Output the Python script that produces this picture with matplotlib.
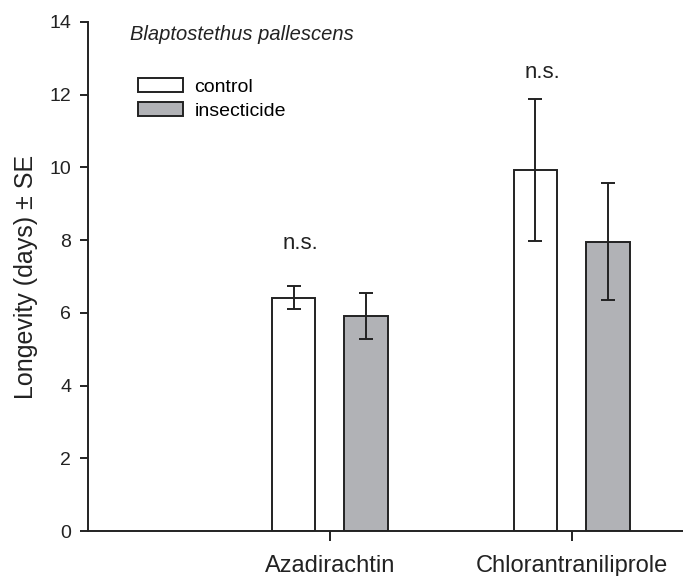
import matplotlib
matplotlib.use("Agg")
import matplotlib.pyplot as plt
import numpy as np

plt.rcParams['font.family'] = ['Liberation Sans', 'DejaVu Sans']

categories = ["Azadirachtin", "Chlorantraniliprole"]
control_mean = [6.42, 9.93]
control_se = [0.32, 1.95]
insect_mean = [5.91, 7.96]
insect_se = [0.64, 1.61]
sig_labels = ["n.s.", "n.s."]
sig_y = [7.9, 12.6]
title_text = "Blaptostethus pallescens"

fig = plt.figure(figsize=(6.83, 5.76), dpi=100)
ax = fig.add_axes([88/683, 1-531/576, 1-88/683, (531-22)/576])

x = np.array([1, 2])
w = 0.18
off = 0.15
edge = '#222222'
lw = 1.4
ax.bar(x - off, control_mean, w, color='white', edgecolor=edge, linewidth=lw, label='control', zorder=2)
ax.bar(x + off, insect_mean, w, color='#b1b2b6', edgecolor=edge, linewidth=lw, label='insecticide', zorder=2)
ax.errorbar(x - off, control_mean, yerr=control_se, fmt='none', ecolor=edge, elinewidth=lw, capsize=5, capthick=lw, zorder=3)
ax.errorbar(x + off, insect_mean, yerr=insect_se, fmt='none', ecolor=edge, elinewidth=lw, capsize=5, capthick=lw, zorder=3)

for xi, s, yv in zip(x, sig_labels, sig_y):
    ax.text(xi - 0.12, yv, s, ha='center', va='center', fontsize=16, color='#222222')

ax.set_xlim(0, 2.46)
ax.set_ylim(0, 14)
ax.set_xticks(x)
ax.set_xticklabels(categories, fontsize=17)
ax.set_yticks(np.arange(0, 15, 2))
ax.tick_params(axis='y', labelsize=14, length=6, width=lw, direction='out', colors='#222222', pad=6)
ax.tick_params(axis='x', length=7, width=lw, direction='out', pad=10, colors='#222222')
for sp in ['top', 'right']:
    ax.spines[sp].set_visible(False)
for sp in ['left', 'bottom']:
    ax.spines[sp].set_linewidth(lw)
    ax.spines[sp].set_color('#222222')
ax.set_ylabel("Longevity (days) \u00b1 SE", fontsize=18, color='#222222', labelpad=8)

ax.text(0.07, 0.975, title_text, transform=ax.transAxes, fontsize=14.5, style='italic',
        ha='left', va='center', color='#222222')
leg = ax.legend(loc='upper left', bbox_to_anchor=(0.071, 0.905), frameon=False, fontsize=14,
                handlelength=2.3, handleheight=0.75, handletextpad=0.6, labelspacing=0.3, borderaxespad=0)

fig.savefig("out.png", dpi=100)
